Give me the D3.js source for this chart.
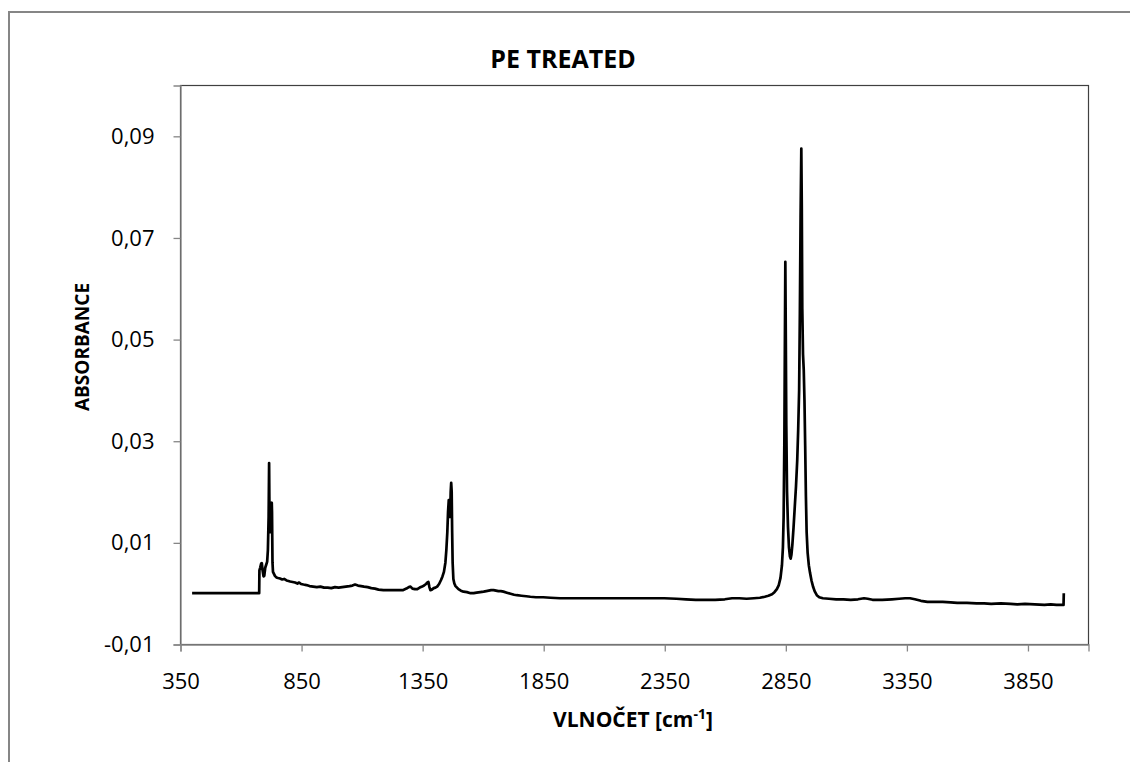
<!DOCTYPE html>
<html>
<head>
<meta charset="utf-8">
<script src="https://cdn.jsdelivr.net/npm/d3@7"></script>
<style>
  html, body { margin: 0; padding: 0; background: #fff; overflow: hidden; }
  svg { display: block; }
  text { font-family: "Open Sans", sans-serif; fill: #000; }
</style>
</head>
<body>
<div id="app"></div>
<script>
// spectrum
const wavenumber = [
  400, 500, 600, 677, 678, 681, 685, 688, 691, 695, 698, 702, 706, 710, 713, 716, 718, 719, 720, 721,
  722, 723, 724, 725, 726, 727, 728, 729, 730, 731, 732, 734, 738, 742, 748, 755, 763, 772, 780, 790,
  798, 805, 815, 825, 835, 842, 850, 860, 872, 885, 900, 915, 930, 945, 960, 975, 990, 1005, 1020, 1035,
  1050, 1062, 1073, 1085, 1098, 1110, 1125, 1140, 1155, 1170, 1190, 1210, 1230, 1250, 1270, 1285, 1295, 1302, 1310, 1320,
  1330, 1340, 1350, 1358, 1366, 1372, 1376, 1380, 1384, 1390, 1398, 1405, 1412, 1420, 1428, 1434, 1440, 1446, 1450, 1454,
  1457, 1460, 1462, 1464, 1466, 1468, 1470, 1472, 1474, 1476, 1479, 1483, 1488, 1494, 1500, 1510, 1521, 1535, 1550, 1563,
  1575, 1590, 1604, 1615, 1625, 1635, 1645, 1655, 1665, 1675, 1686, 1700, 1715, 1730, 1742, 1760, 1780, 1797, 1820, 1850,
  1880, 1920, 1980, 2050, 2120, 2200, 2280, 2350, 2400, 2440, 2480, 2520, 2560, 2600, 2630, 2660, 2690, 2720, 2745, 2765,
  2780, 2795, 2805, 2815, 2823, 2830, 2836, 2840, 2843, 2846, 2848, 2850, 2852, 2854, 2857, 2861, 2865, 2869, 2872, 2875,
  2879, 2884, 2889, 2894, 2899, 2903, 2907, 2910, 2913, 2916, 2918, 2920, 2923, 2926, 2929, 2932, 2935, 2938, 2942, 2947,
  2952, 2958, 2965, 2972, 2980, 2990, 3005, 3030, 3060, 3090, 3120, 3150, 3175, 3190, 3210, 3250, 3290, 3320, 3345, 3365,
  3385, 3410, 3437, 3470, 3500, 3533, 3560, 3600, 3640, 3671, 3700, 3740, 3780, 3808, 3840, 3880, 3920, 3946, 3970, 3999,
  4000
];
const absorbance = [
  0.0000, 0.0000, 0.0000, 0.0000, 0.0045, 0.0050, 0.0058, 0.0059, 0.0045, 0.0033, 0.0034, 0.0050, 0.0056, 0.0062, 0.0085, 0.0150, 0.0256, 0.0190, 0.0150, 0.0172,
  0.0120, 0.0165, 0.0125, 0.0175, 0.0130, 0.0177, 0.0140, 0.0178, 0.0160, 0.0110, 0.0060, 0.0042, 0.0038, 0.0034, 0.0031, 0.0030, 0.0029, 0.0027, 0.0028, 0.0025,
  0.0024, 0.0023, 0.0022, 0.0021, 0.0019, 0.0021, 0.0018, 0.0017, 0.0016, 0.0014, 0.0013, 0.0012, 0.0013, 0.0011, 0.0011, 0.0010, 0.0012, 0.0011, 0.0012, 0.0013,
  0.0014, 0.0015, 0.0017, 0.0015, 0.0014, 0.0013, 0.0012, 0.0010, 0.0009, 0.0007, 0.0006, 0.0006, 0.0006, 0.0006, 0.0006, 0.0009, 0.0012, 0.0013, 0.0009, 0.0008,
  0.0008, 0.0011, 0.0013, 0.0015, 0.0018, 0.0021, 0.0022, 0.0012, 0.0006, 0.0007, 0.0010, 0.0011, 0.0013, 0.0018, 0.0026, 0.0033, 0.0042, 0.0060, 0.0085, 0.0120,
  0.0160, 0.0183, 0.0178, 0.0150, 0.0160, 0.0200, 0.0217, 0.0200, 0.0120, 0.0060, 0.0028, 0.0019, 0.0014, 0.0011, 0.0008, 0.0005, 0.0003, 0.0002, 0.0000, 0.0000,
  0.0001, 0.0002, 0.0003, 0.0004, 0.0005, 0.0006, 0.0006, 0.0005, 0.0004, 0.0004, 0.0003, 0.0001, -0.0001, -0.0003, -0.0004, -0.0005, -0.0006, -0.0007, -0.0008, -0.0008,
  -0.0009, -0.0010, -0.0010, -0.0010, -0.0010, -0.0010, -0.0010, -0.0010, -0.0011, -0.0012, -0.0013, -0.0013, -0.0013, -0.0012, -0.0010, -0.0010, -0.0011, -0.0010, -0.0009, -0.0007,
  -0.0005, -0.0002, 0.0002, 0.0008, 0.0016, 0.0030, 0.0055, 0.0090, 0.0150, 0.0300, 0.0480, 0.0652, 0.0500, 0.0330, 0.0200, 0.0130, 0.0090, 0.0072, 0.0068, 0.0075,
  0.0095, 0.0130, 0.0170, 0.0210, 0.0260, 0.0320, 0.0400, 0.0550, 0.0740, 0.0875, 0.0760, 0.0560, 0.0470, 0.0440, 0.0380, 0.0290, 0.0190, 0.0120, 0.0080, 0.0055,
  0.0040, 0.0025, 0.0012, 0.0003, -0.0004, -0.0008, -0.0010, -0.0011, -0.0012, -0.0012, -0.0013, -0.0012, -0.0010, -0.0011, -0.0013, -0.0013, -0.0012, -0.0011, -0.0010, -0.0010,
  -0.0012, -0.0015, -0.0017, -0.0017, -0.0017, -0.0018, -0.0019, -0.0019, -0.0020, -0.0020, -0.0021, -0.0020, -0.0021, -0.0022, -0.0021, -0.0022, -0.0023, -0.0022, -0.0023, -0.0023,
  0.0000
];

const xTicks = [350, 850, 1350, 1850, 2350, 2850, 3350, 3850];
const yTicks = [-0.01, 0.01, 0.03, 0.05, 0.07, 0.09];

const width = 1130;
const height = 762;
const plot = { left: 180, top: 85, right: 1088, bottom: 644 };

const svg = d3.select('#app')
  .append('svg')
  .attr('width', width)
  .attr('height', height);

// outer chart frame, only left and top edges are inside the picture
svg.append('path')
  .attr('d', `M9,${height} V12 H${width}`)
  .attr('fill', 'none')
  .attr('stroke', '#868686')
  .attr('stroke-width', 2);

const xScale = d3.scaleLinear().domain([350, 4100]).range([plot.left, plot.right]);
const yScale = d3.scaleLinear().domain([-0.01, 0.10]).range([plot.bottom, plot.top]);

// plot area border
svg.append('rect')
  .attr('x', plot.left + 0.5).attr('y', plot.top + 0.5)
  .attr('width', plot.right - plot.left).attr('height', plot.bottom - plot.top)
  .attr('fill', 'none')
  .attr('stroke', '#404040')
  .attr('stroke-width', 1.2);

const fmt = d => d3.format('.2f')(d).replace('.', ',').replace('\u2212', '-');

const axisx = d3.axisBottom(xScale).tickValues(xTicks).tickSize(7).tickFormat(d3.format('d'));
const axisy = d3.axisLeft(yScale).tickValues(yTicks).tickSize(7).tickPadding(19).tickFormat(fmt);

const gx = svg.append('g')
  .attr('transform', `translate(0.5, ${plot.bottom + 0.5})`)
  .call(axisx);
gx.selectAll('text').attr('y', 44).attr('dy', 0).style('font-size', '22px');

const gy = svg.append('g')
  .attr('transform', `translate(${plot.left + 0.5}, 0.5)`)
  .call(axisy);
gy.selectAll('text').style('font-size', '22px');

svg.selectAll('.domain, .tick line')
  .attr('stroke', '#868686')
  .attr('stroke-width', 1.3);
svg.selectAll('.tick text').attr('fill', '#000').style('font-family', '"Open Sans", sans-serif');

const data = wavenumber.map((w, i) => ({ w: w, a: absorbance[i] }));

const line = d3.line()
  .x(d => xScale(d.w))
  .y(d => yScale(d.a));

svg.append('path')
  .datum(data)
  .attr('fill', 'none')
  .attr('stroke', '#000')
  .attr('stroke-width', 2.7)
  .attr('stroke-linejoin', 'round')
  .attr('d', line);

// titles
svg.append('text')
  .attr('x', 563).attr('y', 68)
  .attr('text-anchor', 'middle')
  .style('font-size', '25px')
  .style('font-weight', 'bold')
  .text('PE TREATED');

svg.append('text')
  .attr('transform', 'translate(89, 347) rotate(-90)')
  .attr('text-anchor', 'middle')
  .style('font-size', '19px')
  .style('font-weight', 'bold')
  .text('ABSORBANCE');

const xl = svg.append('text')
  .attr('x', 633).attr('y', 727)
  .attr('text-anchor', 'middle')
  .style('font-size', '21px')
  .style('font-weight', 'bold');
xl.append('tspan').text('VLNOČET [cm');
xl.append('tspan').attr('dy', -8).style('font-size', '14px').text('-1');
xl.append('tspan').attr('dy', 8).text(']');
</script>
</body>
</html>
